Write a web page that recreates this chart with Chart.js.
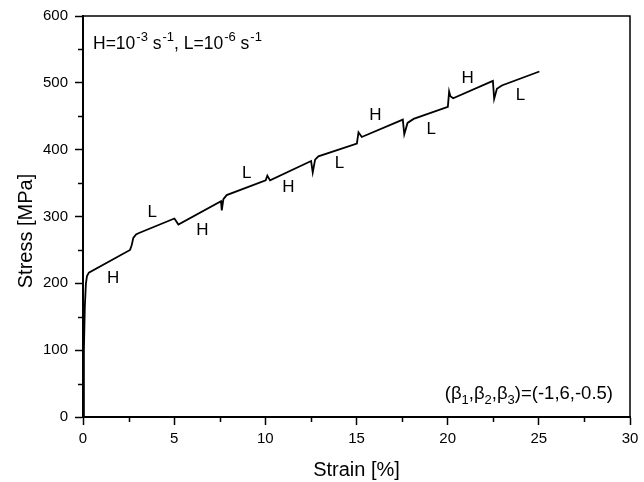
<!DOCTYPE html>
<html><head><meta charset="utf-8">
<script src="https://cdn.jsdelivr.net/npm/chart.js@4.4.1/dist/chart.umd.min.js"></script>
<style>html,body{margin:0;padding:0;background:#fff;}</style>
</head><body>
<canvas id="c" width="644" height="482"></canvas>
<script>
// ---- data ----
const strain = [0, 0.05, 0.1, 0.16, 0.22, 0.32, 2.58, 2.67, 2.76, 2.91, 3.04, 5.01, 5.06, 5.23,
  7.57, 7.61, 7.7, 7.88, 10.02, 10.11, 10.26, 12.51, 12.6, 12.73, 12.91, 15.02, 15.11, 15.29,
  17.54, 17.62, 17.8, 18.13, 20.01, 20.08, 20.15, 20.3, 22.48, 22.55, 22.7, 22.97, 25.03];
const stress = [0, 100, 165, 200, 211, 216, 250, 257, 268, 273, 275, 297, 295, 288,
  323, 309, 326, 332, 354, 361, 354, 383, 366, 385, 390, 409, 426, 419,
  445, 423, 440, 446, 464, 487, 480, 477, 503, 476, 491, 496, 517];
const xTicks = [0, 5, 10, 15, 20, 25, 30];
const yTicks = [0, 100, 200, 300, 400, 500, 600];
const xMinor = [2.5, 7.5, 12.5, 17.5, 22.5, 27.5];
const yMinor = [50, 150, 250, 350, 450, 550];
const labelText = ['H', 'L', 'H', 'L', 'H', 'L', 'H', 'L', 'H', 'L'];
const labelStrain = [1.65, 3.79, 6.55, 8.98, 11.27, 14.07, 16.03, 19.1, 21.09, 24.0];
const labelStress = [208, 306, 279, 365, 344, 379, 451, 431, 507, 481];
const xTitle = 'Strain [%]';
const yTitle = 'Stress [MPa]';

const FONT = "'Liberation Sans', Arial, sans-serif";

const extras = {
  id: 'extras',
  afterDraw(chart) {
    const ctx = chart.ctx, a = chart.chartArea;
    const xs = chart.scales.x, ys = chart.scales.y;
    ctx.save();
    ctx.strokeStyle = '#000';
    // frame top/right
    ctx.lineWidth = 1.5;
    ctx.beginPath();
    ctx.moveTo(a.left, a.top); ctx.lineTo(a.right, a.top); ctx.lineTo(a.right, a.bottom);
    ctx.stroke();
    // minor ticks
    ctx.lineWidth = 1.5;
    ctx.beginPath();
    xMinor.forEach(v => { const p = Math.round(xs.getPixelForValue(v)) + 0.5; ctx.moveTo(p, a.bottom); ctx.lineTo(p, a.bottom + 5); });
    yMinor.forEach(v => { const p = Math.round(ys.getPixelForValue(v)) + 0.5; ctx.moveTo(a.left, p); ctx.lineTo(a.left - 5, p); });
    ctx.stroke();
    // H / L labels
    ctx.fillStyle = '#000';
    ctx.font = '17px ' + FONT;
    ctx.textAlign = 'center'; ctx.textBaseline = 'middle';
    labelText.forEach((t, i) => ctx.fillText(t, xs.getPixelForValue(labelStrain[i]), ys.getPixelForValue(labelStress[i])));
    // axis titles
    ctx.font = '20px ' + FONT;
    ctx.fillText(xTitle, (a.left + a.right) / 2, 470);
    ctx.save();
    ctx.translate(26, 231);
    ctx.rotate(-Math.PI / 2);
    ctx.fillText(yTitle, 0, 0);
    ctx.restore();
    // top-left rates text
    ctx.textAlign = 'left'; ctx.textBaseline = 'alphabetic';
    const parts = [['H=10', 0], ['-3', 1], [' s', 0], ['-1', 1], [', L=10', 0], ['-6', 1], [' s', 0], ['-1', 1]];
    let x = a.left + 10;
    const base = 49;
    parts.forEach(([t, sup]) => {
      if (sup) { ctx.font = '13px ' + FONT; x += 1; ctx.fillText(t, x, base - 8); }
      else { ctx.font = '17.5px ' + FONT; ctx.fillText(t, x, base); }
      x += ctx.measureText(t).width;
    });
    // beta text (right aligned)
    const bparts = [['(\u03B2', 0], ['1', 1], [',\u03B2', 0], ['2', 1], [',\u03B2', 0], ['3', 1], [')=(-1,6,-0.5)', 0]];
    let w = 0;
    bparts.forEach(([t, sub]) => { ctx.font = (sub ? '13px ' : '18.5px ') + FONT; w += ctx.measureText(t).width; });
    x = 613 - w;
    const bb = 399;
    bparts.forEach(([t, sub]) => {
      ctx.font = (sub ? '13px ' : '18.5px ') + FONT;
      ctx.fillText(t, x, sub ? bb + 5 : bb);
      x += ctx.measureText(t).width;
    });
    ctx.restore();
  }
};

const tickFont = { family: FONT, size: 15 };
new Chart(document.getElementById('c'), {
  type: 'scatter',
  data: {
    datasets: [{
      data: strain.map((s, i) => ({ x: s, y: stress[i] })),
      showLine: true, borderColor: '#000', borderWidth: 1.8, pointRadius: 0, tension: 0, fill: false
    }]
  },
  options: {
    responsive: false, animation: false, devicePixelRatio: 1,
    layout: { padding: { top: 16, right: 14, left: 0, bottom: 0 } },
    plugins: { legend: { display: false }, tooltip: { enabled: false } },
    scales: {
      x: {
        type: 'linear', min: 0, max: 30,
        afterBuildTicks: s => { s.ticks = xTicks.map(v => ({ value: v })); },
        afterFit: s => { s.height = 65; },
        ticks: { font: tickFont, color: '#000', padding: 5, maxRotation: 0, autoSkip: false },
        grid: { display: true, drawOnChartArea: false, drawTicks: true, tickLength: 8, tickWidth: 1.5, tickColor: '#000' },
        border: { display: true, width: 2, color: '#000' }
      },
      y: {
        type: 'linear', min: 0, max: 600,
        afterBuildTicks: s => { s.ticks = yTicks.map(v => ({ value: v })); },
        afterFit: s => { s.width = 83; },
        ticks: { font: tickFont, color: '#000', padding: 7, autoSkip: false },
        grid: { display: true, drawOnChartArea: false, drawTicks: true, tickLength: 8, tickWidth: 1.5, tickColor: '#000' },
        border: { display: true, width: 2, color: '#000' }
      }
    }
  },
  plugins: [extras]
});
</script>
</body></html>
